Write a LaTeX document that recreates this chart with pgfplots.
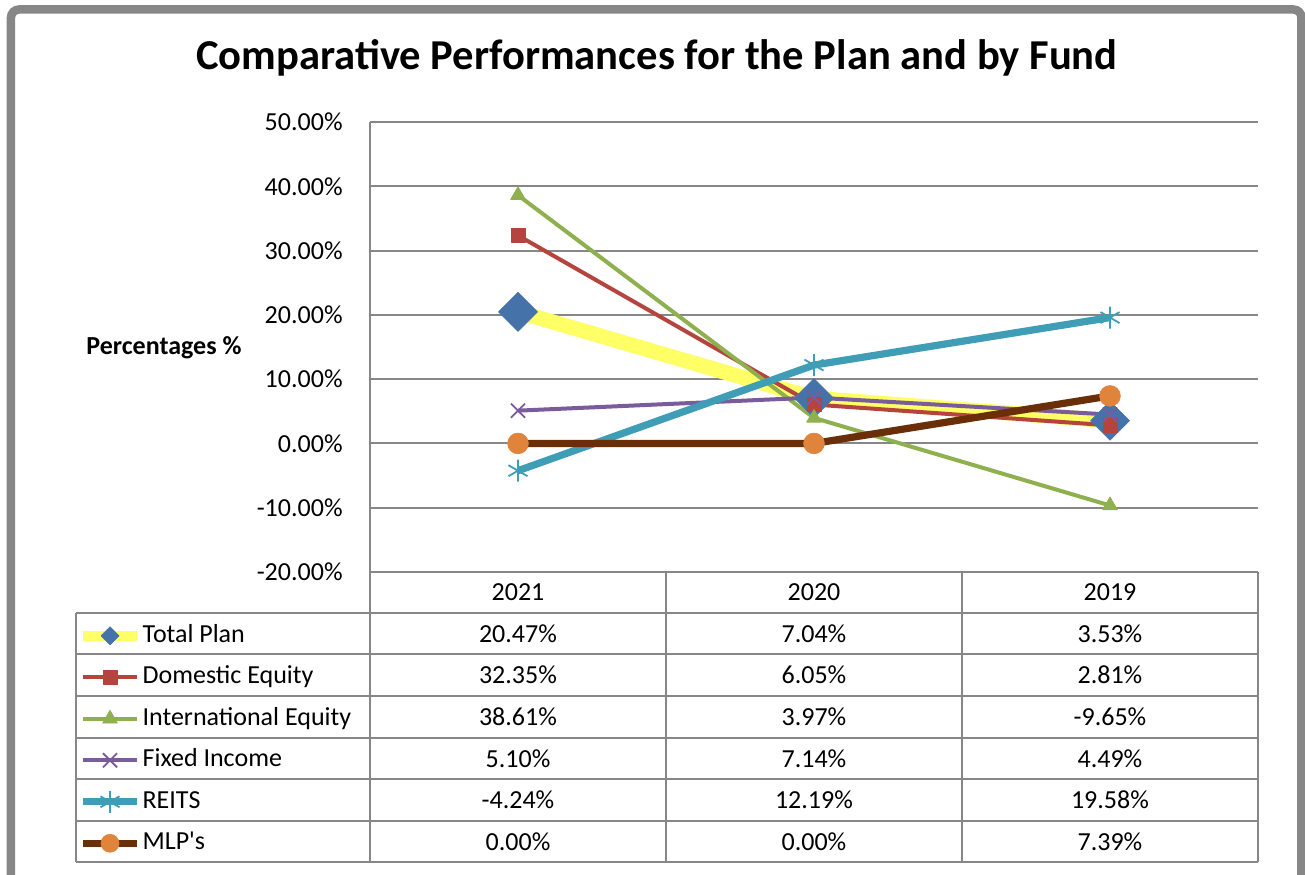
\documentclass[border=0pt]{standalone}
\usepackage{fontspec}
\setmainfont{Carlito}
\usepackage{pgfplots}
\pgfplotsset{compat=1.18}
\definecolor{gridgray}{HTML}{878787}
\definecolor{tpyellow}{HTML}{FFFF66}
\definecolor{tpblue}{HTML}{4672AA}
\definecolor{dered}{HTML}{B5443F}
\definecolor{iegreen}{HTML}{8FB04F}
\definecolor{fipurple}{HTML}{7A5C9C}
\definecolor{reteal}{HTML}{3F9DB6}
\definecolor{mlpbrown}{HTML}{6A2F08}
\definecolor{mlporange}{HTML}{E0843C}
\newcommand{\tfont}{\fontsize{13bp}{15bp}\selectfont}
\begin{document}
\begin{tikzpicture}
\useasboundingbox (0,0) rectangle (652.5bp,-437.5bp);
\begin{scope}[x=0.5bp,y=-0.5bp]
 \draw[gridgray, line width=4.25bp, rounded corners=4bp] (11,900) -- (11,9.5) -- (1301.5,9.5) -- (1301.5,900);
 \node[font=\fontsize{21.3bp}{24bp}\selectfont\bfseries] at (657,58) {Comparative Performances for the Plan and by Fund};
 \node[font=\tfont\bfseries] at (164,348) {Percentages \%};
\end{scope}
\begin{axis}[
  at={(185bp,-286bp)}, anchor=south west,
  scale only axis, width=444bp, height=225bp,
  xmin=0, xmax=3, ymin=-20, ymax=50,
  axis x line*=bottom, axis y line*=left,
  axis line style={gridgray, line width=1bp, -},
  ymajorgrids, major grid style={gridgray, line width=1bp},
  major tick length=0pt,
  ytick={-20,-10,0,10,20,30,40,50},
  yticklabels={-20.00\%,-10.00\%,0.00\%,10.00\%,20.00\%,30.00\%,40.00\%,50.00\%},
  yticklabel style={font=\tfont, anchor=east, inner sep=0pt, xshift=-13.5bp},
  xtick={0.5,1.5,2.5},
  xticklabels={2021,2020,2019},
  xticklabel style={font=\tfont, anchor=center, inner sep=0pt, yshift=-10bp},
  clip=false,
  line join=round,
  legend style={at={(-0.3288,-0.0956)}, anchor=north west, draw=none, fill=none,
    inner sep=0pt, outer sep=0pt, row sep=0pt, column sep=0pt,
    nodes={font=\tfont, inner xsep=0.3bp, inner ysep=0pt, minimum height=20.75bp, text height=9bp, text depth=2.5bp}},
  legend cell align=left,
  legend image code/.code={\draw[mark repeat=2,mark phase=2,#1] plot coordinates {(0bp,0bp)(13.5bp,0bp)(27bp,0bp)};},
]
\addplot[tpyellow, line width=7.5bp, mark=square*, mark size=6.9bp,
  mark options={rotate=45, fill=tpblue, draw=tpblue, line width=0.3bp},
  legend image post style={line width=5bp, mark size=3.2bp}]
  coordinates {(0.5,20.47)(1.5,7.04)(2.5,3.53)};
\addlegendentry{Total Plan}
\addplot[dered, line width=2bp, mark=square*, mark size=3.5bp,
  mark options={fill=dered, draw=dered, line width=0.3bp}]
  coordinates {(0.5,32.35)(1.5,6.05)(2.5,2.81)};
\addlegendentry{Domestic Equity}
\addplot[iegreen, line width=2bp, mark=triangle*, mark size=4.3bp,
  mark options={fill=iegreen, draw=iegreen, line width=0.3bp}]
  coordinates {(0.5,38.61)(1.5,3.97)(2.5,-9.65)};
\addlegendentry{International Equity}
\addplot[fipurple, line width=2bp, mark=x, mark size=5bp,
  mark options={line width=0.9bp}]
  coordinates {(0.5,5.10)(1.5,7.14)(2.5,4.49)};
\addlegendentry{Fixed Income}
\addplot[reteal, line width=3.6bp, mark=asterisk, mark size=5.5bp,
  mark options={line width=0.9bp}]
  coordinates {(0.5,-4.24)(1.5,12.19)(2.5,19.58)};
\addlegendentry{REITS}
\addplot[mlpbrown, line width=3.6bp, mark=*, mark size=5.2bp,
  mark options={fill=mlporange, draw=mlporange, line width=0.3bp},
  legend image post style={mark size=4.5bp}]
  coordinates {(0.5,0.00)(1.5,0.00)(2.5,7.39)};
\addlegendentry{MLP\textquotesingle s}
\end{axis}
\begin{scope}[x=0.5bp,y=-0.5bp]
 \draw[gridgray, line width=1bp]
   (370,572) -- (1258,572)
   (76,612.7) -- (1258,612.7)
   (76,654.3) -- (1258,654.3)
   (76,696) -- (1258,696)
   (76,737.7) -- (1258,737.7)
   (76,779.3) -- (1258,779.3)
   (76,820.7) -- (1258,820.7)
   (76,862) -- (1258,862)
   (76,612.7) -- (76,862)
   (370,572) -- (370,862)
   (666,572) -- (666,862)
   (962,572) -- (962,862)
   (1258,572) -- (1258,862);
 \foreach \y/\a/\b/\c in {633.5/20.47\%/7.04\%/3.53\%,
                         675.2/32.35\%/6.05\%/2.81\%,
                         716.9/38.61\%/3.97\%/-9.65\%,
                         758.5/5.10\%/7.14\%/4.49\%,
                         800/-4.24\%/12.19\%/19.58\%,
                         841.4/0.00\%/0.00\%/7.39\%}{
   \node[font=\tfont] at (518,\y) {\a};
   \node[font=\tfont] at (814,\y) {\b};
   \node[font=\tfont] at (1110,\y) {\c};
 }
\end{scope}
\end{tikzpicture}
\end{document}
